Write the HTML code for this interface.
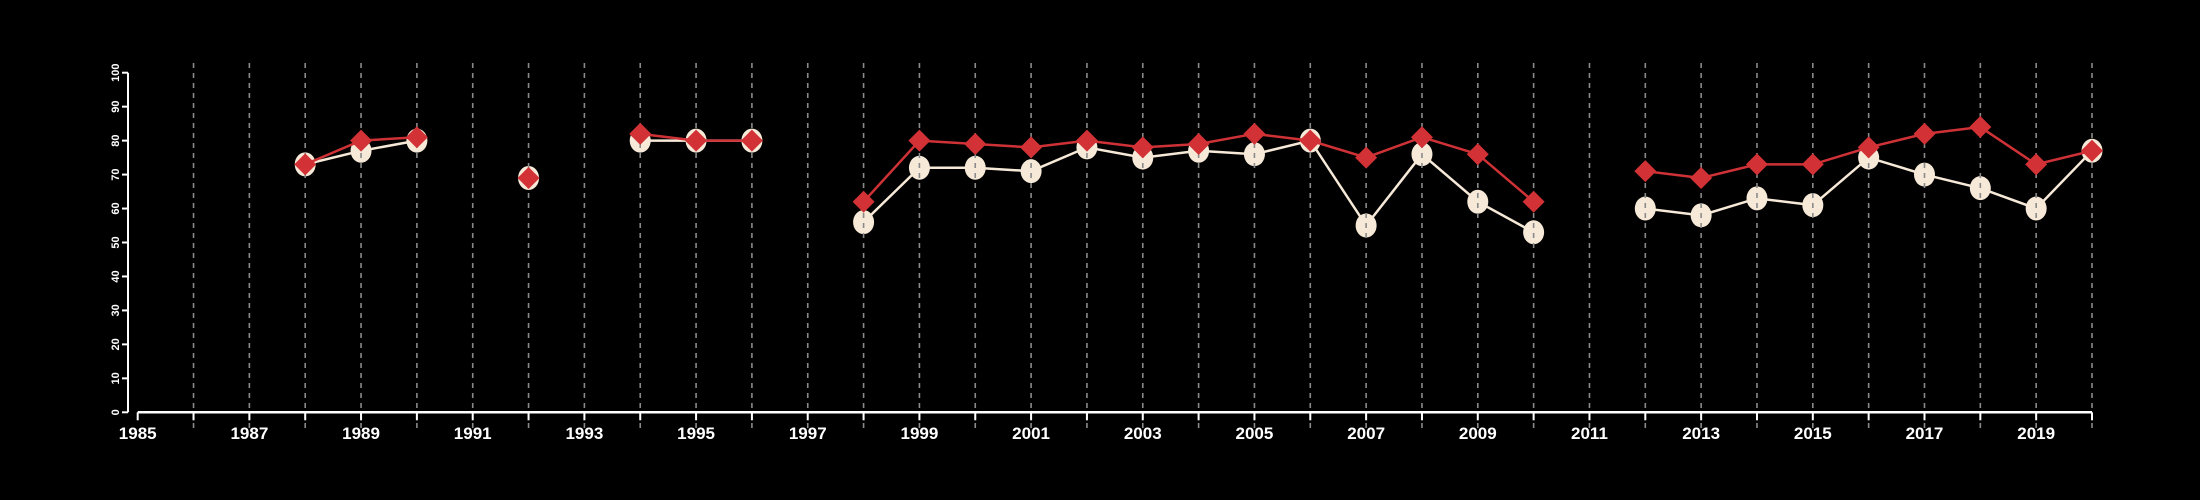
<!DOCTYPE html>
<html><head><meta charset="utf-8"><style>
html,body{margin:0;padding:0;background:#000;}
svg{display:block;}
</style></head><body>
<svg id="chart" width="2200" height="500" xmlns="http://www.w3.org/2000/svg" style="background:#000;font-family:'Liberation Sans',sans-serif;">
<g id="g-lines"></g>
</svg>
<script>
const years = [1988,1989,1990,1991,1992,1993,1994,1995,1996,1997,1998,1999,2000,2001,2002,2003,2004,2005,2006,2007,2008,2009,2010,2011,2012,2013,2014,2015,2016,2017,2018,2019,2020];
const seriesWhite = [73,77,80,null,69,null,80,80,80,null,56,72,72,71,78,75,77,76,80,55,76,62,53,null,60,58,63,61,75,70,66,60,77];
const seriesRed = [73,80,81,null,69,null,82,80,80,null,62,80,79,78,80,78,79,82,80,75,81,76,62,null,71,69,73,73,78,82,84,73,77];
const yTicks = [0,10,20,30,40,50,60,70,80,90,100];
const xTickLabels = [1985,1987,1989,1991,1993,1995,1997,1999,2001,2003,2005,2007,2009,2011,2013,2015,2017,2019];
const xMin = 1985, xMax = 2020, yMin = 0, yMax = 100;

const NS = 'http://www.w3.org/2000/svg';
const svg = document.getElementById('chart');
const X0 = 137.7, X1 = 2092, Y0 = 412.3, Y1 = 72.7;
function xs(v){ return X0 + (v - xMin) / (xMax - xMin) * (X1 - X0); }
function ys(v){ return Y0 - (v - yMin) / (yMax - yMin) * (Y0 - Y1); }
function mk(tag, attrs, parent){
  const e = document.createElementNS(NS, tag);
  for (const k in attrs) e.setAttribute(k, attrs[k]);
  (parent || svg).appendChild(e);
  return e;
}
function segs(vals){
  const out = []; let cur = [];
  vals.forEach((v,i)=>{ if (v === null){ if (cur.length) out.push(cur); cur = []; } else cur.push([xs(years[i]), ys(v)]); });
  if (cur.length) out.push(cur);
  return out;
}

// white series line + circles
segs(seriesWhite).forEach(s=>{
  if (s.length < 2) return;
  const p = mk('polyline', {points: s.map(q=>q.join(',')).join(' '), fill:'none', stroke:'#f6e9d8', 'stroke-width':2.5});
  
  
});
seriesWhite.forEach((v,i)=>{
  if (v === null) return;
  const c = mk('ellipse', {cx: xs(years[i]), cy: ys(v), rx: 10.5, ry: 12, fill:'#f6e9d8'});
  
  
});

// grid lines
for (let y = xMin + 1; y <= xMax; y++){
  const l = mk('line', {x1: xs(y), x2: xs(y), y1: 63, y2: 428, stroke:'#8a8a8a', 'stroke-width':1.6, 'stroke-dasharray':'5,5'});
  
  
}

// red series line + diamonds
segs(seriesRed).forEach(s=>{
  if (s.length < 2) return;
  const p = mk('polyline', {points: s.map(q=>q.join(',')).join(' '), fill:'none', stroke:'#cf3236', 'stroke-width':2.5});
  
  
});
seriesRed.forEach((v,i)=>{
  if (v === null) return;
  const cx = xs(years[i]), cy = ys(v), r = 11;
  const d = mk('polygon', {points: `${cx},${cy-r} ${cx+r},${cy} ${cx},${cy+r} ${cx-r},${cy}`, fill:'#d23236'});
  
  
});

// x axis
const ax = mk('line', {x1: X0, x2: X1, y1: Y0, y2: Y0, stroke:'#fff', 'stroke-width':2.5});


for (let y = xMin; y <= xMax; y++){
  const t = mk('line', {x1: xs(y), x2: xs(y), y1: Y0, y2: Y0 + 8, stroke:'#fff', 'stroke-width':2});
  
  
}
xTickLabels.forEach(y=>{
  const t = mk('text', {x: xs(y), y: 439, fill:'#fff', 'font-size':17, 'font-weight':'bold', 'text-anchor':'middle'});
  t.textContent = y;
  
  
});

// y axis
const ay = mk('line', {x1: 128, x2: 128, y1: ys(yMin), y2: ys(yMax), stroke:'#fff', 'stroke-width':2});


yTicks.forEach(v=>{
  const t = mk('line', {x1: 128, x2: 122, y1: ys(v), y2: ys(v), stroke:'#fff', 'stroke-width':2});
  
  
  const tx = mk('text', {x: 0, y: 0, fill:'#fff', 'font-size':11, 'font-weight':'bold', 'text-anchor':'middle', transform:`translate(119,${ys(v)}) rotate(-90)`});
  tx.textContent = v;
  
  
});
</script>
</body></html>
